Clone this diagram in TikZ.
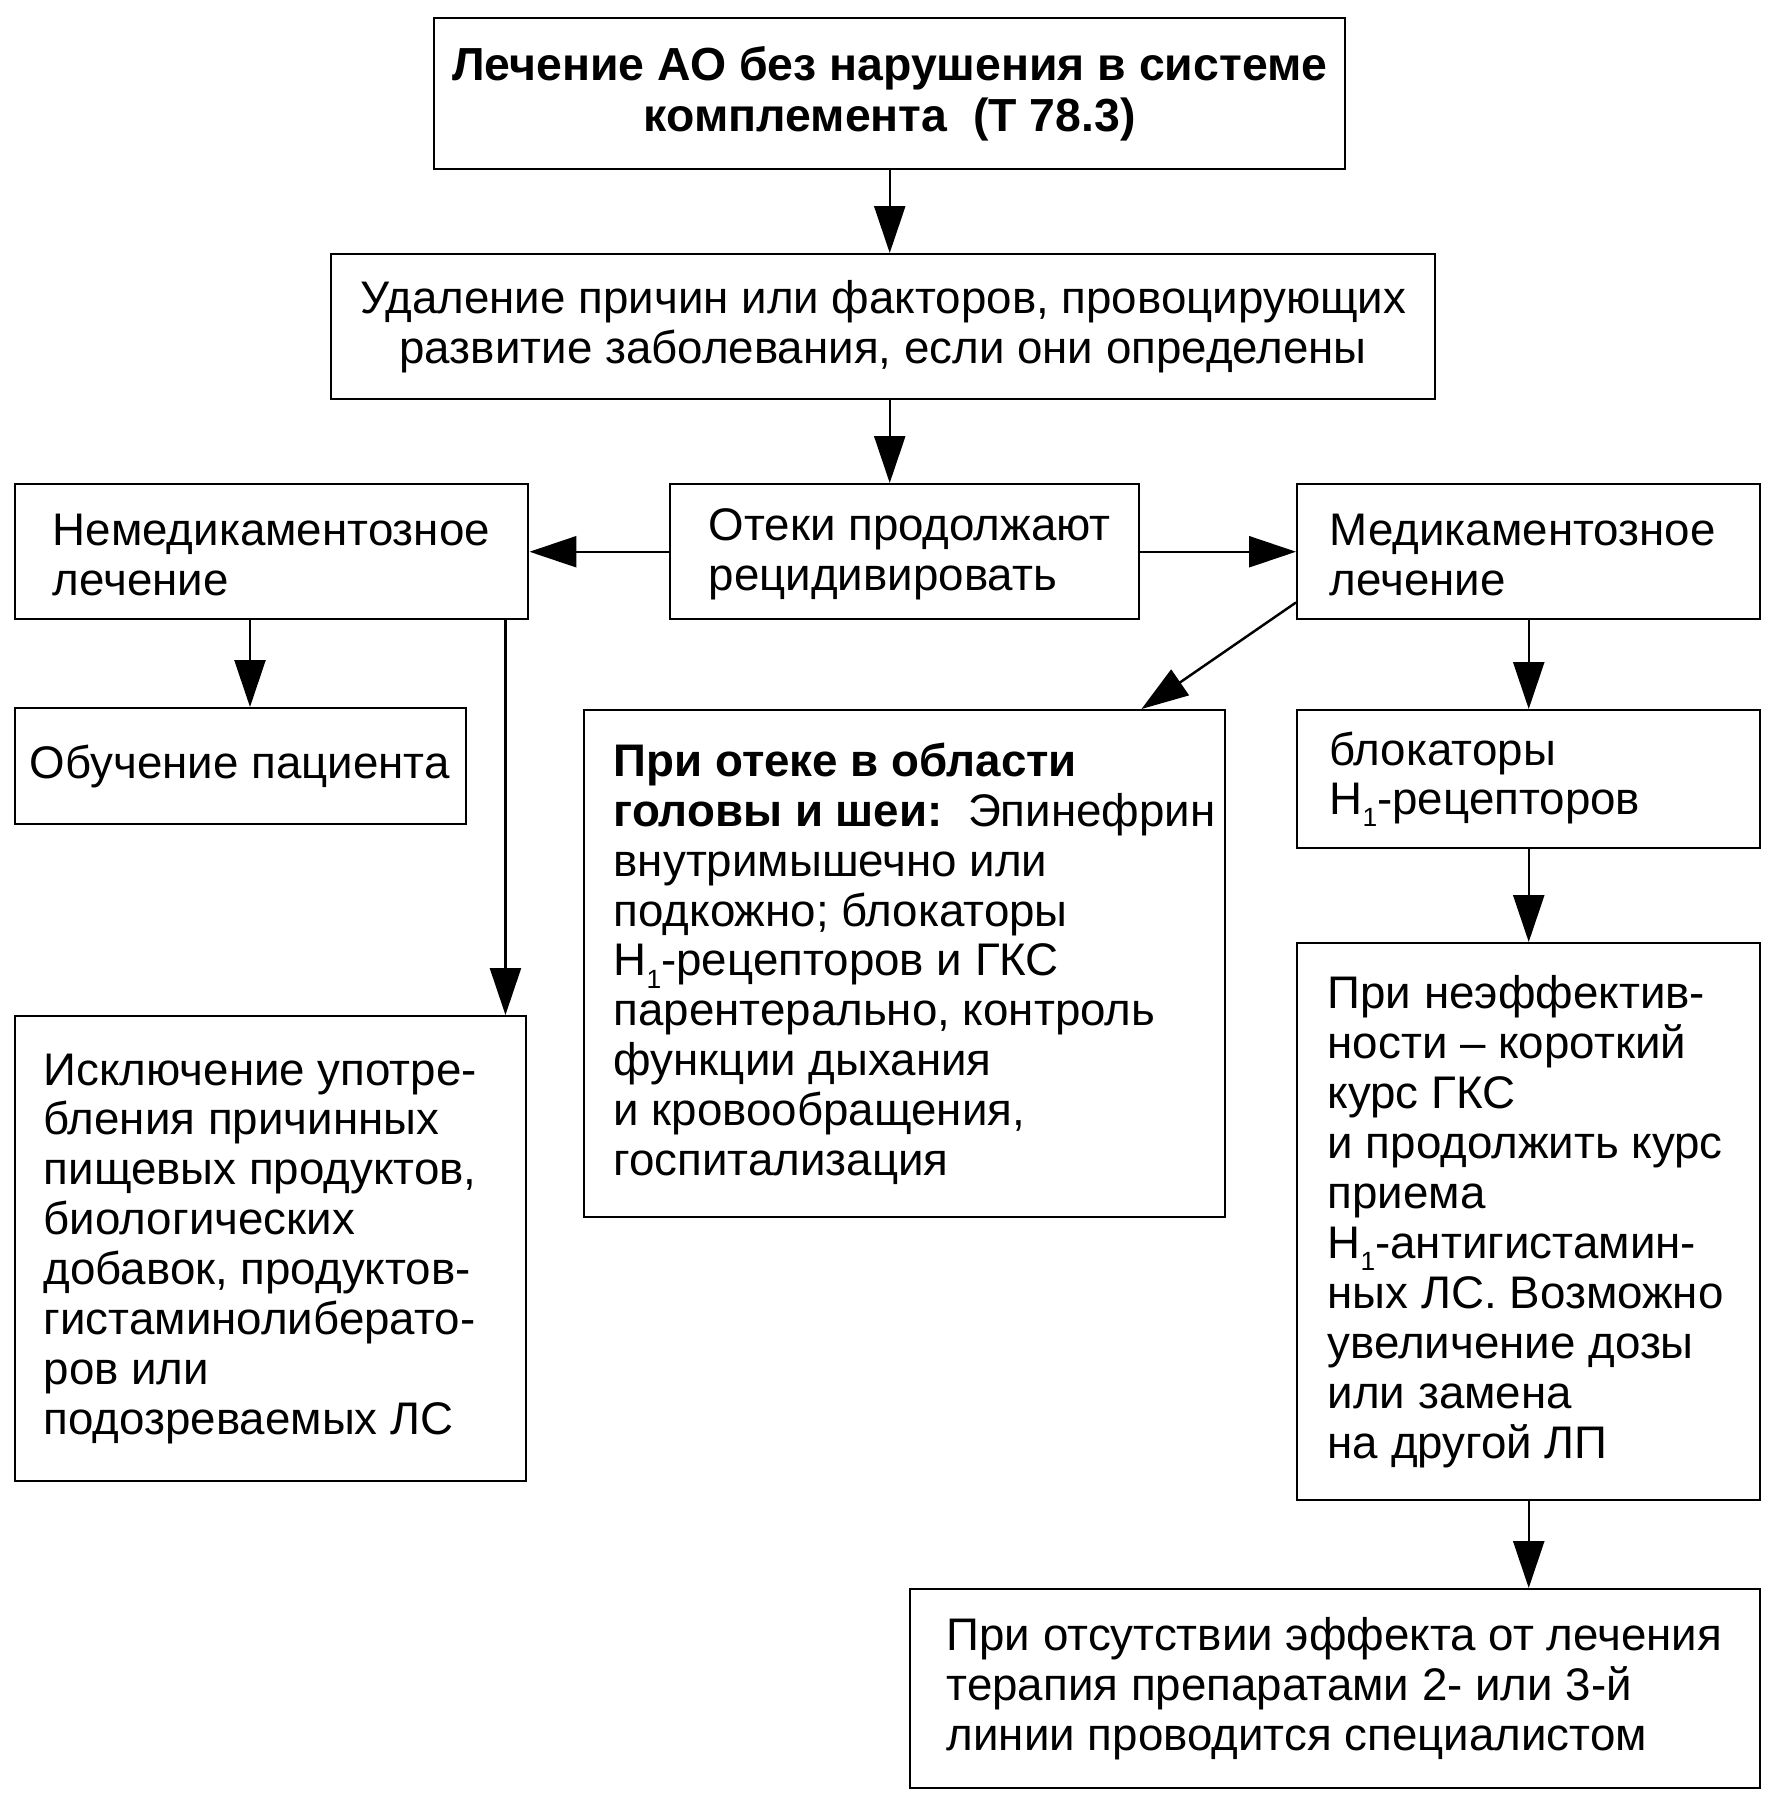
\documentclass[tikz,border=0pt]{standalone}
\usepackage{fontspec}
\setmainfont{Liberation Sans}
\usetikzlibrary{arrows.meta}
\newcommand\hsub[1]{\raisebox{-.5ex}{\fontsize{7.5}{8}\selectfont#1}}

\begin{document}
\begin{tikzpicture}[font=\fontsize{13}{14.2}\selectfont,
  box/.style={draw, line width=.7pt, anchor=north west, inner sep=0pt},
  txt/.style={anchor=west, align=left, inner sep=0pt},
  arr/.style={-{Triangle[length=4.7mm,width=3.1mm]}, line width=.7pt}]
\path[use as bounding box, fill=white] (0,0) rectangle (17.74,-18.01);

\node[box, minimum width=9.11cm, minimum height=1.51cm, align=center, font=\fontsize{13.2}{14.4}\selectfont\bfseries] (top) at (4.33,-.17) {Лечение АО без нарушения в системе\\комплемента\ \ (Т 78.3)};
\node[box, minimum width=11.04cm, minimum height=1.45cm, align=center] (cause) at (3.30,-2.53) {Удаление причин или факторов, провоцирующих\\развитие заболевания, если они определены};

\node[box, minimum width=5.13cm, minimum height=1.35cm] (nonmed) at (.14,-4.83) {};
\node[txt] (nonmed-t) at ([xshift=.38cm,yshift=-.03cm]nonmed.west) {Немедикаментозное\\лечение};
\node[box, minimum width=4.69cm, minimum height=1.35cm] (relapse) at (6.69,-4.83) {};
\node[txt] (relapse-t) at ([xshift=.39cm,yshift=-.03cm]relapse.west) {Отеки продолжают\\рецидивировать};
\node[box, minimum width=4.63cm, minimum height=1.35cm] (med) at (12.96,-4.83) {};
\node[txt] (med-t) at ([xshift=.33cm,yshift=-.03cm]med.west) {Медикаментозное\\лечение};

\node[box, minimum width=4.51cm, minimum height=1.16cm] (teach) at (.14,-7.07) {};
\node[txt] (teach-t) at ([xshift=.15cm]teach.west) {Обучение пациента};
\node[box, minimum width=5.11cm, minimum height=4.65cm] (excl) at (.14,-10.15) {};
\node[txt] (excl-t) at ([xshift=.29cm]excl.west) {Исключение употре-\\бления причинных\\пищевых продуктов,\\биологических\\добавок, продуктов-\\гистаминолиберато-\\ров или\\подозреваемых ЛС};

\node[box, minimum width=6.41cm, minimum height=5.07cm] (head) at (5.83,-7.09) {};
\node[txt] (head-t) at ([xshift=.30cm]head.west) {{\bfseries При отеке в области}\\{\bfseries головы и шеи:}\ \ Эпинефрин\\внутримышечно или\\подкожно; блокаторы\\H\hsub{1}-рецепторов и ГКС\\парентерально, контроль\\функции дыхания\\и кровообращения,\\госпитализация};

\node[box, minimum width=4.63cm, minimum height=1.38cm] (block) at (12.96,-7.09) {};
\node[txt] (block-t) at ([xshift=.33cm]block.west) {блокаторы\\H\hsub{1}-рецепторов};
\node[box, minimum width=4.63cm, minimum height=5.57cm] (noeff) at (12.96,-9.42) {};
\node[txt] (noeff-t) at ([xshift=.31cm]noeff.west) {При неэффектив-\\ности – короткий\\курс ГКС\\и продолжить курс\\приема\\H\hsub{1}-антигистамин-\\ных ЛС. Возможно\\увеличение дозы\\или замена\\на другой ЛП};
\node[box, minimum width=8.50cm, minimum height=1.99cm] (spec) at (9.09,-15.88) {};
\node[txt] (spec-t) at ([xshift=.37cm]spec.west) {При отсутствии эффекта от лечения\\терапия препаратами 2- или 3-й\\линии проводится специалистом};

\coordinate (lo) at ([xshift=2.36cm]nonmed.south west);
\coordinate (li) at ([xshift=-.24cm]nonmed.south east);
\coordinate (rd) at ([yshift=.18cm]med.south west);

\draw[arr] (top.south) -- (top.south |- cause.north);
\draw[arr] (top.south |- cause.south) -- (top.south |- relapse.north);
\draw[arr] (relapse.west) -- (nonmed.east);
\draw[arr] (relapse.east) -- (med.west);
\draw[arr] (lo) -- (lo |- teach.north);
\draw[arr] (li) -- (li |- excl.north);
\draw[arr] (rd) -- ([xshift=-.85cm]head.north east);
\draw[arr] (med.south) -- (block.north);
\draw[arr] (block.south) -- (noeff.north);
\draw[arr] (noeff.south) -- (noeff.south |- spec.north);
\end{tikzpicture}
\end{document}
